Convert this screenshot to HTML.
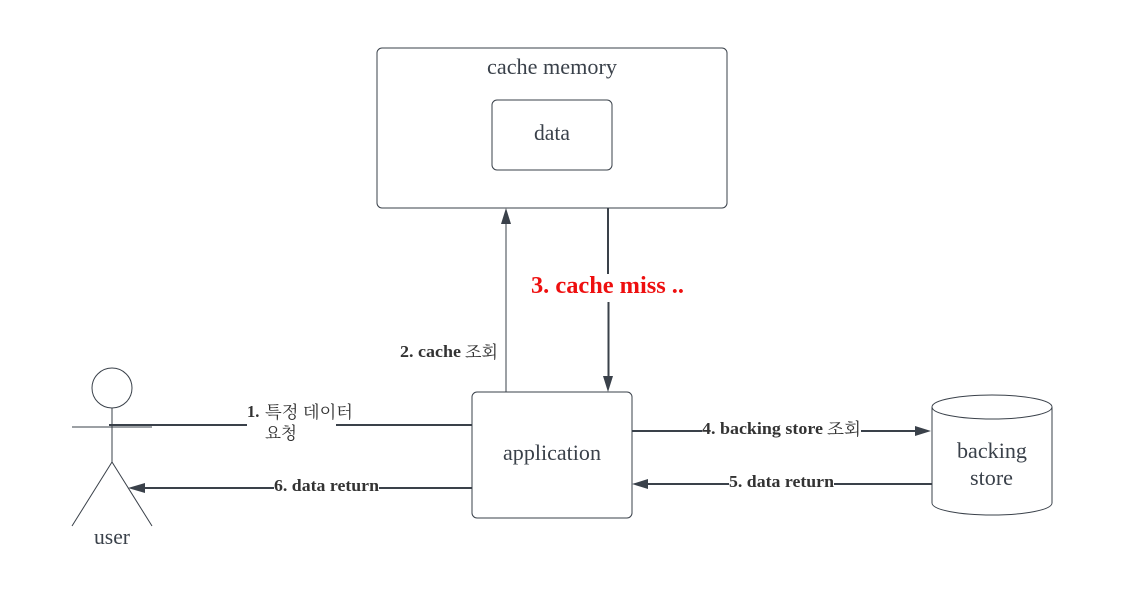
<!DOCTYPE html>
<html><head><meta charset="utf-8">
<style>
html,body{margin:0;padding:0;background:#fff;width:1123px;height:595px;overflow:hidden}
svg{display:block}
text{font-family:"Liberation Serif","Noto Serif CJK KR","Noto Serif CJK SC",serif;fill:#3a414a}
.t{font-size:22px;fill:#3a414a}
.b{font-size:16.5px;font-weight:bold;fill:#333}
.k{font-size:17px;font-weight:normal;fill:#333;font-family:"Noto Serif CJK KR","Noto Serif CJK SC",serif}
.s{fill:none;stroke:#3a414a;stroke-width:1}
.c{stroke:#3a414a;fill:none}
.a{fill:#3a414a;stroke:none}
</style></head>
<body>
<svg width="1123" height="595" viewBox="0 0 1123 595" xmlns="http://www.w3.org/2000/svg">
<rect x="377" y="48" width="350" height="160" rx="5" class="s"/>
<rect x="492" y="100" width="120" height="70" rx="5" class="s"/>
<rect x="472" y="392" width="160" height="126" rx="5" class="s"/>
<text x="487" y="74" class="t" textLength="130" lengthAdjust="spacingAndGlyphs">cache memory</text>
<text x="534" y="140" class="t" textLength="36" lengthAdjust="spacingAndGlyphs">data</text>
<text x="503" y="460" class="t" textLength="98" lengthAdjust="spacingAndGlyphs">application</text>

<!-- user -->
<circle cx="112" cy="388" r="20" class="s"/>
<path d="M112 408V462M72 427H152M112 462L72 526M112 462L152 526" class="s"/>
<text x="94" y="544" class="t" textLength="36" lengthAdjust="spacingAndGlyphs">user</text>

<!-- cylinder -->
<path d="M932 407C932 400 960 395 992 395C1024 395 1052 400 1052 407V503C1052 510 1024 515 992 515C960 515 932 510 932 503Z" class="s"/>
<path d="M932 407C932 414 960 419 992 419C1024 419 1052 414 1052 407" class="s"/>
<text x="957" y="458" class="t" textLength="70" lengthAdjust="spacingAndGlyphs">backing</text>
<text x="970" y="485" class="t" textLength="43" lengthAdjust="spacingAndGlyphs">store</text>

<!-- connectors -->
<path d="M109 425H247M336 425H472" class="c" stroke-width="2"/>
<path d="M472 488H379M274 488H144" class="c" stroke-width="2"/>
<path class="a" d="M128 488L145 483V493Z"/>
<path d="M506 392V224" class="c" stroke-width="1"/>
<path class="a" d="M506 208L511 224H501Z"/>
<path d="M608 208V274M608.500 302V376" class="c" stroke-width="2"/>
<path class="a" d="M608 392L603 376H613Z"/>
<path d="M632 431H702M861 431H915" class="c" stroke-width="2"/>
<path class="a" d="M931 431L915 426V436Z"/>
<path d="M932 484H834M729 484H648" class="c" stroke-width="2"/>
<path class="a" d="M632 484L648 479V489Z"/>

<!-- labels -->
<text x="247" y="417" class="b">1.</text>
<text x="265" y="418" class="k" textLength="88" lengthAdjust="spacingAndGlyphs">특정 데이터</text>
<text x="265" y="439" class="k" textLength="32" lengthAdjust="spacingAndGlyphs">요청</text>
<text x="274" y="491" class="b" textLength="105" lengthAdjust="spacingAndGlyphs">6. data return</text>
<text x="400" y="357" class="b" textLength="61" lengthAdjust="spacingAndGlyphs">2. cache</text>
<text x="465" y="358" class="k" textLength="33" lengthAdjust="spacingAndGlyphs">조회</text>
<text x="531" y="293" font-size="24" font-weight="bold" style="fill:#ee0f0f" textLength="153" lengthAdjust="spacingAndGlyphs">3. cache miss ..</text>
<text x="702" y="434" class="b" textLength="121" lengthAdjust="spacingAndGlyphs">4. backing store</text>
<text x="827" y="435" class="k" textLength="34" lengthAdjust="spacingAndGlyphs">조회</text>
<text x="729" y="487" class="b" textLength="105" lengthAdjust="spacingAndGlyphs">5. data return</text>
</svg>
</body></html>
